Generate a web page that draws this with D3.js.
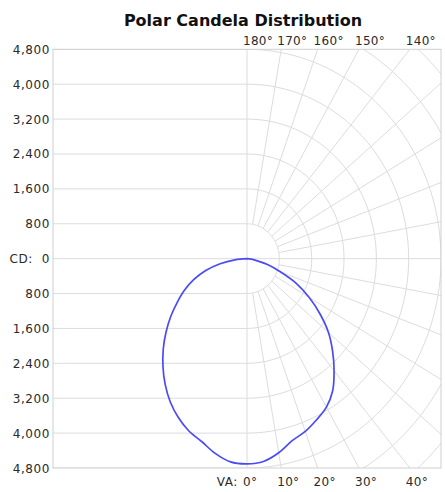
<!DOCTYPE html>
<html>
<head>
<meta charset="utf-8">
<script src="https://cdn.jsdelivr.net/npm/d3@7"></script>
<style>
  body { margin: 0; background: #fff; }
  text { font-family: "DejaVu Sans", Verdana, sans-serif; fill: #2a2a2a; white-space: pre; }
</style>
</head>
<body>
<svg id="chart" width="445" height="492"></svg>
<script>
const width = 445;
const height = 492;

// Candela values, every 5 degrees from nadir
const angles = [0, 5, 10, 15, 20, 25, 30, 35, 40, 45, 50, 55, 60, 65, 70, 75, 80, 85, 90];
const rightCd = [4705, 4668, 4518, 4320, 4215, 4075, 3930, 3696, 3352, 2995, 2631, 2202, 1773, 1352, 865, 525, 220, 70, 0];
const leftCd = [4705, 4678, 4534, 4340, 4205, 4020, 3795, 3528, 3234, 2930, 2614, 2301, 1989, 1703, 1397, 1057, 676, 300, 0];

const cdTicks = [-4800, -4000, -3200, -2400, -1600, -800, 0, 800, 1600, 2400, 3200, 4000, 4800];
const rings = [800, 1600, 2400, 3200, 4000, 4800, 5600, 6400];
const spokes = [10, 20, 30, 40, 50, 60, 70, 80, 90, 100, 110, 120, 130, 140, 150, 160, 170];
const topLabels = [180, 170, 160, 150, 140];
const bottomLabels = [0, 10, 20, 30, 40];

const plot = { left: 53, right: 441, top: 49.3, bottom: 468 };
const maxCd = 4800;

// x and y have their own scale (the picture is not square)
const x = d3.scaleLinear().domain([-maxCd, maxCd]).range([plot.left, plot.right]);
const y = d3.scaleLinear().domain([-maxCd, maxCd]).range([plot.bottom, plot.top]);

// angle measured from straight down, positive to the right
const px = (r, a) => x(r * Math.sin(a * Math.PI / 180));
const py = (r, a) => y(-r * Math.cos(a * Math.PI / 180));

const svg = d3.select("#chart");
const gridColor = "#dcdcdc";

svg.append("defs").append("clipPath").attr("id", "plotClip")
  .append("rect")
  .attr("x", plot.left).attr("y", plot.top)
  .attr("width", plot.right - plot.left).attr("height", plot.bottom - plot.top);

const grid = svg.append("g").attr("clip-path", "url(#plotClip)");

// horizontal lines on the left half
grid.selectAll(".hline")
  .data(cdTicks)
  .join("line")
  .attr("x1", plot.left).attr("x2", x(0))
  .attr("y1", d => y(d)).attr("y2", d => y(d))
  .attr("stroke", gridColor);

// rings on the right half
const ringLine = d3.line();
grid.selectAll(".ring")
  .data(rings)
  .join("path")
  .attr("d", r => ringLine(d3.range(0, 181, 2).map(a => [px(r, a), py(r, a)])))
  .attr("fill", "none")
  .attr("stroke", gridColor);

// spokes
grid.selectAll(".spoke")
  .data(spokes)
  .join("line")
  .attr("x1", a => px(a === 90 ? 0 : 800, a)).attr("y1", a => py(a === 90 ? 0 : 800, a))
  .attr("x2", a => px(9000, a)).attr("y2", a => py(9000, a))
  .attr("stroke", gridColor);

// centre vertical line
grid.append("line")
  .attr("x1", x(0)).attr("x2", x(0))
  .attr("y1", plot.top).attr("y2", plot.bottom)
  .attr("stroke", gridColor);

// frame
svg.append("rect")
  .attr("x", plot.left).attr("y", plot.top)
  .attr("width", plot.right - plot.left).attr("height", plot.bottom - plot.top)
  .attr("fill", "none")
  .attr("stroke", "#cfcfcf");

// candela curve: left half from 90 down to 0, then right half back up
const pts = [];
for (let i = angles.length - 1; i >= 0; i--) pts.push([px(leftCd[i], -angles[i]), py(leftCd[i], -angles[i])]);
for (let i = 1; i < angles.length; i++) pts.push([px(rightCd[i], angles[i]), py(rightCd[i], angles[i])]);

svg.append("path")
  .attr("d", d3.line().curve(d3.curveCatmullRom)(pts))
  .attr("fill", "none")
  .attr("stroke", "#4b4bf5")
  .attr("stroke-width", 1.7);

// y labels
svg.selectAll(".ylab")
  .data(cdTicks)
  .join("text")
  .attr("x", 50)
  .attr("y", d => y(d) + 4.5)
  .attr("text-anchor", "end")
  .attr("font-size", 12)
  .attr("letter-spacing", 0.6)
  .text(d => d === 0 ? "CD:  0" : d3.format(",")(Math.abs(d)));

// top angle labels
svg.selectAll(".tlab")
  .data(topLabels)
  .join("text")
  .attr("x", a => x(maxCd * Math.tan((180 - a) * Math.PI / 180)) - 4)
  .attr("y", 45)
  .attr("font-size", 12)
  .attr("letter-spacing", 0.3)
  .text(a => a + "°");

// bottom angle labels
svg.selectAll(".blab")
  .data(bottomLabels)
  .join("text")
  .attr("x", a => x(maxCd * Math.tan(a * Math.PI / 180)) - 4)
  .attr("y", 486)
  .attr("font-size", 12)
  .attr("letter-spacing", 0.3)
  .text(a => a + "°");

svg.append("text")
  .attr("x", x(0) - 9)
  .attr("y", 486)
  .attr("text-anchor", "end")
  .attr("font-size", 12)
  .attr("letter-spacing", 0.6)
  .text("VA:");

svg.append("text")
  .attr("x", 243)
  .attr("y", 26)
  .attr("text-anchor", "middle")
  .attr("font-size", 16)
  .attr("font-weight", "bold")
  .style("fill", "#111")
  .text("Polar Candela Distribution");
</script>
</body>
</html>
